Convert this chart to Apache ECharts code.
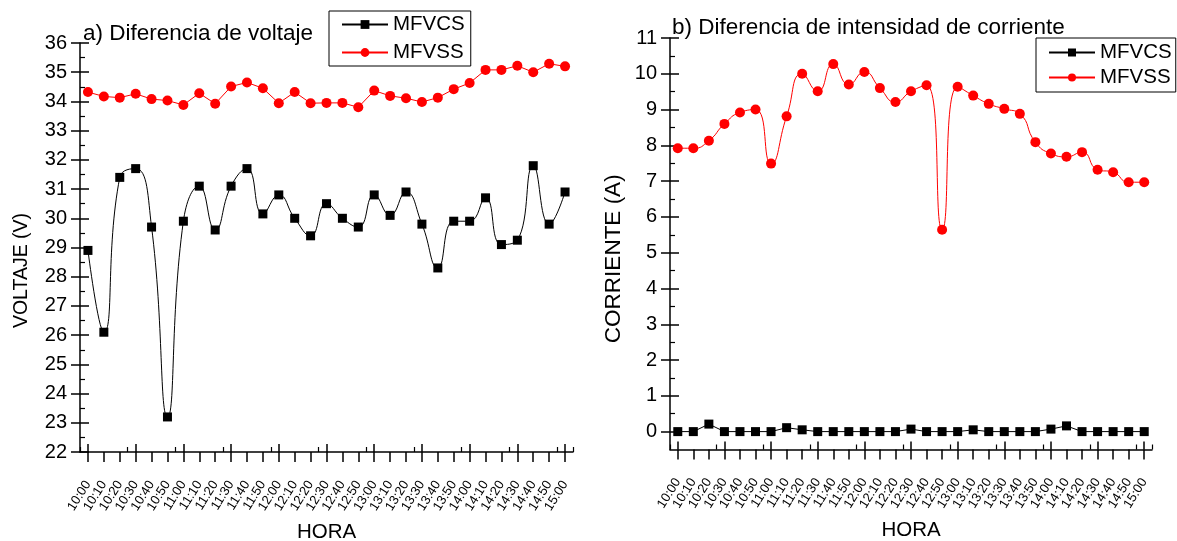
<!DOCTYPE html>
<html>
<head>
<meta charset="utf-8">
<script src="https://cdn.jsdelivr.net/npm/echarts@6/dist/echarts.min.js"></script>
<style>
  html, body { margin: 0; padding: 0; background: #fff; }
  #main { width: 1177px; height: 541px; }
</style>
</head>
<body>
<div id="main"></div>
<script>
// categorias (hora)
var horas = ['10:00','10:10','10:20','10:30','10:40','10:50','11:00','11:10','11:20','11:30','11:40',
             '11:50','12:00','12:10','12:20','12:30','12:40','12:50','13:00','13:10','13:20',
             '13:30','13:40','13:50','14:00','14:10','14:20','14:30','14:40','14:50','15:00'];

// a) voltaje
var voltajeMFVCS = [28.9, 26.1, 31.4, 31.7, 29.7, 23.2, 29.9, 31.1, 29.6, 31.1, 31.7,
                    30.15, 30.8, 30.0, 29.4, 30.5, 30.0, 29.7, 30.8, 30.1, 30.9,
                    29.8, 28.3, 29.9, 29.9, 30.7, 29.1, 29.25, 31.8, 29.8, 30.9];
var voltajeMFVSS = [34.32, 34.17, 34.13, 34.26, 34.08, 34.03, 33.88, 34.28, 33.92, 34.51, 34.65,
                    34.45, 33.94, 34.32, 33.94, 33.95, 33.95, 33.8, 34.37, 34.19, 34.11,
                    33.98, 34.13, 34.42, 34.63, 35.08, 35.08, 35.22, 35.0, 35.29, 35.2];

// b) corriente
var corrienteMFVCS = [0, 0, 0.21, 0, 0, 0, 0, 0.11, 0.05, 0, 0,
                      0, 0, 0, 0, 0.07, 0, 0, 0, 0.05, 0,
                      0, 0, 0, 0.07, 0.16, 0, 0, 0, 0, 0];
var corrienteMFVSS = [7.92, 7.92, 8.13, 8.6, 8.92, 9.0, 7.49, 8.81, 10.0, 9.51, 10.27,
                      9.7, 10.05, 9.6, 9.21, 9.51, 9.68, 5.64, 9.64, 9.39, 9.16,
                      9.02, 8.88, 8.09, 7.77, 7.68, 7.81, 7.32, 7.25, 6.97, 6.97];

// marcas de eje
var ticksCorriente = [0, 1, 2, 3, 4, 5, 6, 7, 8, 9, 10, 11];
var ticksMenoresCorriente = [0.5, 1.5, 2.5, 3.5, 4.5, 5.5, 6.5, 7.5, 8.5, 9.5, 10.5];

var fuente = 'Liberation Sans, Arial, sans-serif';
var negro = '#000';
var rojo = '#ff0000';

function ejeX(grid) {
    return [{
        type: 'category', gridIndex: grid, position: 'bottom', data: horas, boundaryGap: true,
        name: 'HORA', nameLocation: 'middle', nameGap: 70,
        nameTextStyle: { fontFamily: fuente, fontSize: 20.5, color: negro },
        axisLine: { show: true, onZero: false, lineStyle: { color: negro, width: 1.5 } },
        axisTick: { show: true, alignWithLabel: true, length: 10, lineStyle: { color: negro, width: 1.5 } },
        axisLabel: { rotate: 58, margin: 30, interval: 0, fontFamily: fuente, fontSize: 13, color: negro },
        splitLine: { show: false }
    }, {
        type: 'category', gridIndex: grid, position: 'bottom', data: horas, boundaryGap: true,
        axisLine: { show: false, onZero: false },
        axisTick: { show: true, inside: true, length: 5, lineStyle: { color: negro, width: 1.2 } },
        axisLabel: { show: false }, splitLine: { show: false }
    }, {
        type: 'category', gridIndex: grid, position: 'bottom', data: horas, boundaryGap: true,
        axisLine: { show: false, onZero: false },
        axisTick: { show: true, inside: true, alignWithLabel: true, length: 8, lineStyle: { color: negro, width: 1.5 } },
        axisLabel: { show: false }, splitLine: { show: false }
    }];
}

var option = {
    backgroundColor: '#fff',
    animation: false,
    title: [{
        text: 'a) Diferencia de voltaje', left: 78, top: 17,
        textStyle: { fontFamily: fuente, fontSize: 22.5, fontWeight: 'normal', color: negro }
    }, {
        text: 'b) Diferencia de intensidad de corriente', left: 667, top: 11,
        textStyle: { fontFamily: fuente, fontSize: 22.5, fontWeight: 'normal', color: negro }
    }],
    legend: [{
        data: ['MFVCS', 'MFVSS'], orient: 'vertical', left: 329, top: 11,
        borderColor: negro, borderWidth: 1, padding: [3, 6, 3, 12], itemGap: 7,
        itemWidth: 46, itemHeight: 11,
        textStyle: { fontFamily: fuente, fontSize: 20.5, color: negro }
    }, {
        data: ['MFVCS', 'MFVSS'], orient: 'vertical', left: 1036, top: 38,
        borderColor: negro, borderWidth: 1, padding: [4, 4, 4, 12], itemGap: 4,
        itemWidth: 46, itemHeight: 10,
        textStyle: { fontFamily: fuente, fontSize: 20.5, color: negro }
    }],
    grid: [
        { left: 80, right: 604, top: 43, bottom: 89, outerBoundsMode: 'none', containLabel: false },
        { left: 670, right: 25, top: 38, bottom: 91.5, outerBoundsMode: 'none', containLabel: false }
    ],
    xAxis: ejeX(0).concat(ejeX(1)),
    yAxis: [{
        type: 'value', gridIndex: 0, position: 'left', min: 22, max: 36, interval: 1,
        name: 'VOLTAJE (V)', nameLocation: 'middle', nameGap: 48,
        nameTextStyle: { fontFamily: fuente, fontSize: 19.5, color: negro, padding: [0, 46, 0, 0] },
        axisLine: { show: true, lineStyle: { color: negro, width: 1.5 } },
        axisTick: { show: true, length: 9, lineStyle: { color: negro, width: 1.5 } },
        axisLabel: { fontFamily: fuente, fontSize: 20, color: negro, margin: 13 },
        splitLine: { show: false }
    }, {
        type: 'value', gridIndex: 0, position: 'left', min: 22, max: 36, interval: 1,
        axisLine: { show: false },
        axisTick: { show: true, inside: true, length: 9, lineStyle: { color: negro, width: 1.5 } },
        minorTick: { show: true, splitNumber: 2, length: 5, lineStyle: { color: negro, width: 1.2 } },
        axisLabel: { show: false }, splitLine: { show: false }, minorSplitLine: { show: false }
    }, {
        type: 'value', gridIndex: 1, position: 'left', min: -0.5, max: 11,
        name: 'CORRIENTE (A)', nameLocation: 'middle', nameGap: 45,
        nameTextStyle: { fontFamily: fuente, fontSize: 22.5, color: negro, padding: [0, 30, 0, 0] },
        axisLine: { show: true, lineStyle: { color: negro, width: 1.5 } },
        axisTick: { show: true, length: 9, customValues: ticksCorriente, lineStyle: { color: negro, width: 1.5 } },
        axisLabel: { fontFamily: fuente, fontSize: 20, color: negro, margin: 13, customValues: ticksCorriente },
        splitLine: { show: false }
    }, {
        type: 'value', gridIndex: 1, position: 'left', min: -0.5, max: 11,
        axisLine: { show: false },
        axisTick: { show: true, inside: true, length: 9, customValues: ticksCorriente, lineStyle: { color: negro, width: 1.5 } },
        axisLabel: { show: false }, splitLine: { show: false }
    }, {
        type: 'value', gridIndex: 1, position: 'left', min: -0.5, max: 11,
        axisLine: { show: false },
        axisTick: { show: true, inside: true, length: 5, customValues: ticksMenoresCorriente, lineStyle: { color: negro, width: 1.2 } },
        axisLabel: { show: false }, splitLine: { show: false }
    }],
    series: [{
        name: 'MFVCS', type: 'line', xAxisIndex: 0, yAxisIndex: 0, data: voltajeMFVCS,
        smooth: 0.5, symbol: 'rect', symbolSize: 9,
        itemStyle: { color: negro }, lineStyle: { color: negro, width: 1 }
    }, {
        name: 'MFVSS', type: 'line', xAxisIndex: 0, yAxisIndex: 0, data: voltajeMFVSS,
        symbol: 'circle', symbolSize: 10,
        itemStyle: { color: rojo }, lineStyle: { color: rojo, width: 1 }
    }, {
        name: 'MFVCS', type: 'line', xAxisIndex: 3, yAxisIndex: 2, data: corrienteMFVCS,
        symbol: 'rect', symbolSize: 9,
        itemStyle: { color: negro }, lineStyle: { color: negro, width: 1 }
    }, {
        name: 'MFVSS', type: 'line', xAxisIndex: 3, yAxisIndex: 2, data: corrienteMFVSS,
        smooth: 0.55, symbol: 'circle', symbolSize: 10,
        itemStyle: { color: rojo }, lineStyle: { color: rojo, width: 1 }
    }]
};

var myChart = echarts.init(document.getElementById('main'));
myChart.setOption(option);
</script>
</body>
</html>
